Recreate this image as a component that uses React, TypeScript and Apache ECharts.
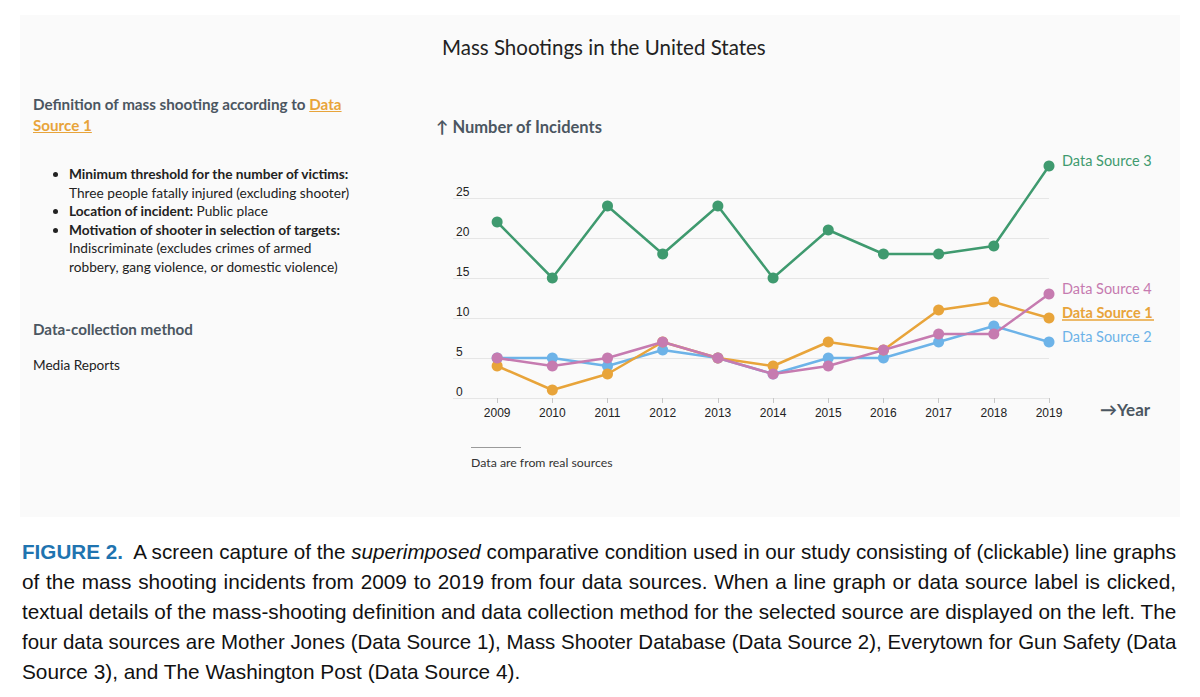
import React, { useEffect, useLayoutEffect, useRef } from "react";
import * as echarts from "echarts";

const years = [2009, 2010, 2011, 2012, 2013, 2014, 2015, 2016, 2017, 2018, 2019];
const ds1 = [4, 1, 3, 7, 5, 4, 7, 6, 11, 12, 10];
const ds2 = [5, 5, 4, 6, 5, 3, 5, 5, 7, 9, 7];
const ds3 = [22, 15, 24, 18, 24, 15, 21, 18, 18, 19, 29];
const ds4 = [5, 4, 5, 7, 5, 3, 4, 6, 8, 8, 13];
const yTicks = [0, 5, 10, 15, 20, 25];
const seriesNames = ["Data Source 1", "Data Source 2", "Data Source 3", "Data Source 4"];

const TITLE = "Mass Shootings in the United States";
const Y_NAME = "↑ Number of Incidents";
const X_NAME = "→Year";

const C1 = "#e8a43a";
const C2 = "#6db3e8";
const C3 = "#3f9a6f";
const C4 = "#c67bb0";
const SLATE = "#4b5661";
const UI = "Lato, 'Open Sans', sans-serif";

const captionLines = [
  "A screen capture of the ",
  "of the mass shooting incidents from 2009 to 2019 from four data sources. When a line graph or data source label is clicked,",
  "textual details of the mass-shooting definition and data collection method for the selected source are displayed on the left. The",
  "four data sources are Mother Jones (Data Source 1), Mass Shooter Database (Data Source 2), Everytown for Gun Safety (Data",
  "Source 3), and The Washington Post (Data Source 4).",
];

function Chart() {
  const ref = useRef<HTMLDivElement>(null);
  useEffect(() => {
    if (!ref.current) return;
    const chart = echarts.init(ref.current, null, { renderer: "svg" });
    const mk = (name: string, data: number[], color: string, label: any, z: number) => ({
      name,
      type: "line",
      z,
      data: years.map((y, i) => [y, data[i]]),
      symbol: "circle",
      symbolSize: 11,
      lineStyle: { width: 2.5, color },
      itemStyle: { color },
      emphasis: { disabled: true },
      endLabel: { show: true, distance: 13, ...label },
    });
    const plain = (color: string, name: string, dy: number) => ({
      formatter: name,
      color,
      fontFamily: UI,
      fontSize: 14.5,
      offset: [0, dy],
    });
    const option = {
      animation: false,
      title: {
        text: TITLE,
        left: 437,
        top: 31,
        textStyle: { fontFamily: UI, fontSize: 20.5, fontWeight: "normal", color: "#222" },
      },
      grid: { left: 453, right: 151, top: 166, bottom: 122 },
      xAxis: {
        type: "value",
        min: 2008.2,
        max: 2019,
        axisLine: { show: false },
        splitLine: { show: false },
        axisTick: { show: true, customValues: years, length: 5, lineStyle: { color: "#c8c8c8" } },
        axisLabel: {
          customValues: years,
          margin: 9,
          fontSize: 12,
          color: "#222",
          fontFamily: "'Liberation Sans', Arial, sans-serif",
          formatter: (v: number) => String(v),
        },
      },
      yAxis: {
        type: "value",
        min: 0,
        max: 29,
        axisLine: { show: false },
        axisTick: { show: false, customValues: yTicks },
        axisLabel: {
          customValues: yTicks,
          inside: true,
          margin: 3,
          verticalAlign: "bottom",
          fontSize: 12,
          color: "#222",
          fontFamily: "'Liberation Sans', Arial, sans-serif",
        },
        splitLine: { lineStyle: { color: "#e6e6e6", width: 1 } },
      },
      graphic: [
        {
          type: "text",
          left: 436,
          top: 118,
          style: { text: Y_NAME, font: `bold 16.5px ${UI}`, fill: SLATE },
        },
        {
          type: "text",
          left: 1100,
          top: 401,
          style: { text: X_NAME, font: `bold 17px ${UI}`, fill: SLATE },
        },
      ],
      series: [
        mk(seriesNames[2], ds3, C3, plain(C3, seriesNames[2], -6), 2),
        mk(seriesNames[1], ds2, C2, plain(C2, seriesNames[1], -6), 3),
        mk(
          seriesNames[0],
          ds1,
          C1,
          {
            formatter: `{a|${seriesNames[0]}}\n{u| }`,
            offset: [0, -5],
            rich: {
              a: { color: C1, fontFamily: UI, fontSize: 14.5, fontWeight: "bold", lineHeight: 14 },
              u: { width: 92, height: 1.5, lineHeight: 2, backgroundColor: C1 },
            },
          },
          4
        ),
        mk(seriesNames[3], ds4, C4, plain(C4, seriesNames[3], -6), 5),
      ],
    };
    chart.setOption(option as any);
    return () => chart.dispose();
  }, []);
  return <div ref={ref} style={{ position: "absolute", left: 0, top: 0, width: 1200, height: 520 }} />;
}

function CaptionLine({ last, children }: { last: boolean; children: React.ReactNode }) {
  const ref = useRef<HTMLDivElement>(null);
  useLayoutEffect(() => {
    const el = ref.current;
    if (!el) return;
    const sw = el.scrollWidth;
    const cw = el.clientWidth;
    if (sw > cw + 0.5) {
      el.style.width = sw + "px";
      el.style.transformOrigin = "0 0";
      el.style.transform = `scaleX(${cw / sw})`;
    }
  }, []);
  return (
    <div
      ref={ref}
      style={{
        width: 1154,
        whiteSpace: "nowrap",
        textAlign: last ? "left" : "justify",
        textAlignLast: last ? "left" : "justify",
        height: 30,
        lineHeight: "30px",
      }}
    >
      {children}
    </div>
  );
}

export default function App() {
  const li: React.CSSProperties = { margin: 0 };
  return (
    <div
      style={{
        position: "absolute",
        left: 0,
        top: 0,
        width: 1200,
        height: 697,
        background: "#fff",
        overflow: "hidden",
      }}
    >
      <div style={{ position: "absolute", left: 20, top: 15, width: 1160, height: 502, background: "#fafafa" }} />
      <Chart />
      <div style={{ position: "absolute", left: 33, top: 94, width: 340, fontFamily: UI, color: "#222" }}>
        <div style={{ fontWeight: "bold", fontSize: 15.2, lineHeight: "21px", color: SLATE }}>
          Definition of mass shooting according to{" "}
          <span style={{ color: C1, textDecoration: "underline" }}>Data</span>
          <br />
          <span style={{ color: C1, textDecoration: "underline" }}>Source 1</span>
        </div>
      </div>
      <ul
        style={{
          position: "absolute",
          left: 33,
          top: 165,
          margin: 0,
          paddingLeft: 36,
          fontFamily: UI,
          fontSize: 13.7,
          lineHeight: "18.5px",
          color: "#222",
          width: 340,
        }}
      >
        <li style={li}>
          <b>Minimum threshold for the number of victims:</b>
          <br />
          Three people fatally injured (excluding shooter)
        </li>
        <li style={li}>
          <b>Location of incident:</b> Public place
        </li>
        <li style={li}>
          <b>Motivation of shooter in selection of targets:</b>
          <br />
          Indiscriminate (excludes crimes of armed
          <br />
          robbery, gang violence, or domestic violence)
        </li>
      </ul>
      <div
        style={{
          position: "absolute",
          left: 33,
          top: 319,
          fontFamily: UI,
          fontWeight: "bold",
          fontSize: 15.2,
          lineHeight: "21px",
          color: SLATE,
        }}
      >
        Data-collection method
      </div>
      <div
        style={{
          position: "absolute",
          left: 33,
          top: 355,
          fontFamily: UI,
          fontSize: 13.6,
          lineHeight: "20px",
          color: "#222",
        }}
      >
        Media Reports
      </div>
      <div style={{ position: "absolute", left: 471, top: 447, width: 50, height: 1, background: "#9a9a9a" }} />
      <div
        style={{
          position: "absolute",
          left: 471,
          top: 455,
          fontFamily: UI,
          fontSize: 12.3,
          lineHeight: "16px",
          color: "#333",
        }}
      >
        Data are from real sources
      </div>
      <div
        style={{
          position: "absolute",
          left: 22,
          top: 537,
          width: 1154,
          fontFamily: "'Liberation Sans', Arial, sans-serif",
          fontSize: 20.8,
          color: "#111",
        }}
      >
        <CaptionLine last={false}>
          <b style={{ color: "#1f74b0" }}>FIGURE 2.</b>&nbsp; {captionLines[0]}
          <i>superimposed</i> comparative condition used in our study consisting of (clickable) line graphs
        </CaptionLine>
        <CaptionLine last={false}>{captionLines[1]}</CaptionLine>
        <CaptionLine last={false}>{captionLines[2]}</CaptionLine>
        <CaptionLine last={false}>{captionLines[3]}</CaptionLine>
        <CaptionLine last={true}>{captionLines[4]}</CaptionLine>
      </div>
    </div>
  );
}
